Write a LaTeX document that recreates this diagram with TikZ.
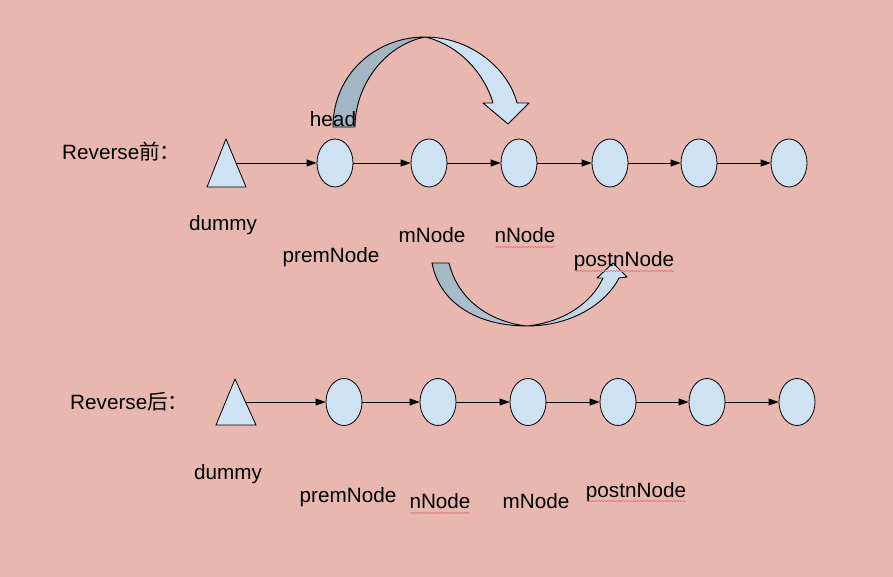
\documentclass[tikz,border=0pt]{standalone}
\usepackage{fontspec}
\setmainfont{Liberation Sans}
\newfontfamily\cjk{Noto Sans CJK SC}
\usetikzlibrary{arrows.meta,shapes.geometric,decorations.pathmorphing}
\definecolor{bg}{HTML}{E8B8B0}
\definecolor{nodeblue}{HTML}{CFE2F3}
\definecolor{backgray}{HTML}{A3B6C4}
\definecolor{squig}{HTML}{E07070}
\tikzset{
  lnode/.style={ellipse,draw=black,line width=0.8pt,fill=nodeblue,minimum width=36pt,minimum height=48pt,inner sep=0pt},
  lnodeb/.style={lnode,minimum height=47pt},
  tri/.style={draw=black,line width=0.8pt,fill=nodeblue},
  link/.style={draw=black,line width=0.8pt,-{Triangle[length=10pt,width=7pt]}},
  lbl/.style={anchor=base,inner sep=0pt,font=\fontsize{20.7}{24}\selectfont},
  ribbon/.style={draw=black,line width=0.9pt,line join=round},
  squiggle/.style={draw=squig,line width=0.5pt,decorate,decoration={snake,amplitude=0.7pt,segment length=3pt}}
}
\begin{document}
\begin{tikzpicture}[x=1pt,y=-1pt]
\useasboundingbox (0,0) rectangle (893,577);
\fill[bg] (0,0) rectangle (893,577);

% top curved arrow
\path[ribbon,fill=backgray] (333,127) .. controls (333,75) and (375,37) .. (425,37)
   .. controls (385,45) and (355,85) .. (355,127) -- cycle;
\path[ribbon,fill=nodeblue] (425,37) .. controls (470,37) and (508,68) .. (517,103)
   -- (529,103) -- (508,124) -- (483,103) -- (493,103)
   .. controls (485,75) and (460,45) .. (425,37) -- cycle;

% bottom curved arrow
\path[ribbon,left color=backgray,right color=nodeblue] (432,263) .. controls (440,305) and (480,326) .. (527,326)
   .. controls (570,326) and (605,305) .. (619,278)
   -- (627,277) -- (613,263) -- (597,278) -- (603,278)
   .. controls (592,302) and (565,322) .. (527,326)
   .. controls (490,322) and (458,300) .. (449,263) -- cycle;

% top row
\draw[tri] (226,139) -- (246,187) -- (207,187) -- cycle;
\coordinate (d1) at (236,163);
\node[lnode] (a1) at (335,163) {};
\node[lnode] (a2) at (429,163) {};
\node[lnode] (a3) at (519,163) {};
\node[lnode] (a4) at (610,163) {};
\node[lnode] (a5) at (699,163) {};
\node[lnode] (a6) at (789,163) {};
\draw[link] (d1) -- (a1);
\draw[link] (a1) -- (a2);
\draw[link] (a2) -- (a3);
\draw[link] (a3) -- (a4);
\draw[link] (a4) -- (a5);
\draw[link] (a5) -- (a6);

% bottom row
\draw[tri] (235,379) -- (256,425) -- (216,425) -- cycle;
\coordinate (d2) at (246,402);
\node[lnodeb] (b1) at (344,402) {};
\node[lnodeb] (b2) at (438,402) {};
\node[lnodeb] (b3) at (528,402) {};
\node[lnodeb] (b4) at (618,402) {};
\node[lnodeb] (b5) at (707,402) {};
\node[lnodeb] (b6) at (797,402) {};
\draw[link] (d2) -- (b1);
\draw[link] (b1) -- (b2);
\draw[link] (b2) -- (b3);
\draw[link] (b3) -- (b4);
\draw[link] (b4) -- (b5);
\draw[link] (b5) -- (b6);

% labels top
\node[lbl,anchor=base west] (t1) at (62,160) {Reverse{\cjk 前：}};
\node[lbl] (head) at (333,127) {head};
\node[lbl] (dm1) at (223,231) {dummy};
\node[lbl] (pm1) at (331,262) {premNode};
\node[lbl] (mn1) at (432,242) {mNode};
\node[lbl] (nn1) at (525,242) {nNode};
\node[lbl] (pn1) at (624,266) {postnNode};

% labels bottom
\node[lbl,anchor=base west] (t2) at (70,409) {Reverse{\cjk 后：}};
\node[lbl] (dm2) at (228,479) {dummy};
\node[lbl] (pm2) at (348,502) {premNode};
\node[lbl] (nn2) at (440,508) {nNode};
\node[lbl] (mn2) at (536,508) {mNode};
\node[lbl] (pn2) at (636,497) {postnNode};

% spell-check squiggles
\draw[squiggle] (495,247) -- (555,247);
\draw[squiggle] (574,271) -- (674,271);
\draw[squiggle] (410,513) -- (470,513);
\draw[squiggle] (586,501) -- (686,501);
\end{tikzpicture}
\end{document}
